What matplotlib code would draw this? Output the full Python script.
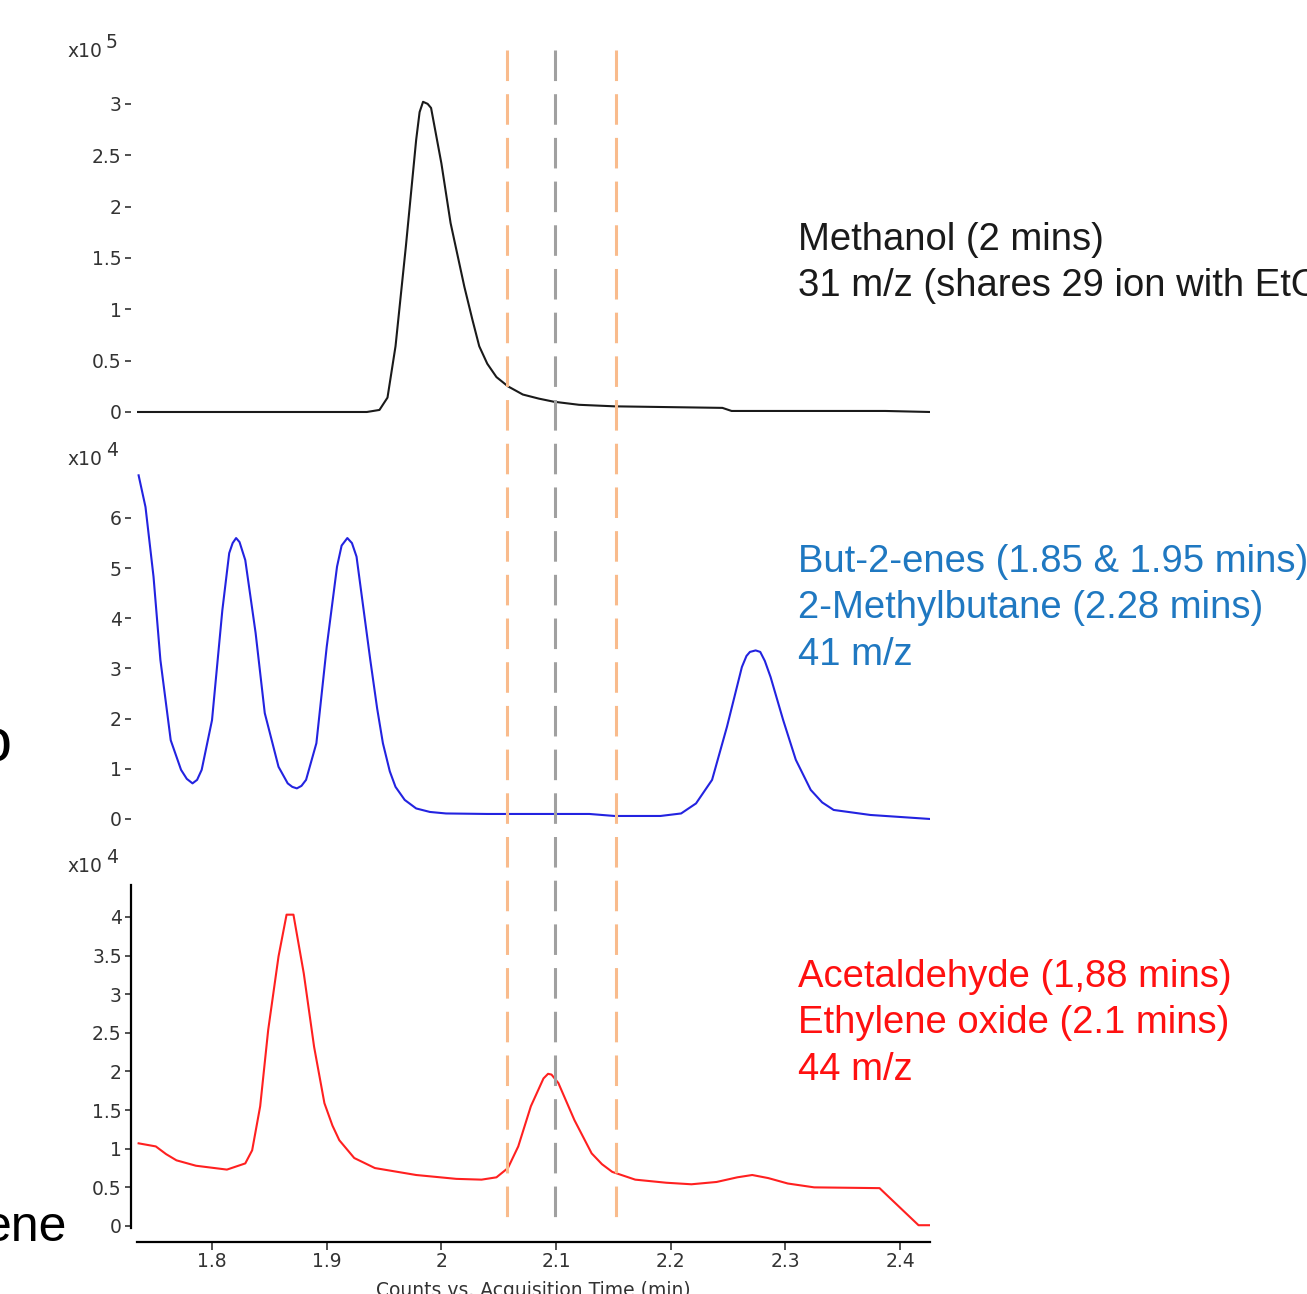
import matplotlib
matplotlib.use("Agg")
import matplotlib.pyplot as plt

W, H = 1307, 1294

# --- datos (x en min, y en unidades del multiplicador) ---
t_metanol = [1.735, 1.935, 1.946, 1.953, 1.960, 1.969, 1.978, 1.981, 1.984, 1.988,
             1.991, 2.000, 2.008, 2.020, 2.027, 2.033, 2.040, 2.048, 2.058, 2.071,
             2.085, 2.098, 2.120, 2.151, 2.245, 2.253, 2.387, 2.426]
y_metanol = [0, 0, 0.02, 0.14, 0.64, 1.61, 2.65, 2.92, 3.02, 3.00,
             2.96, 2.42, 1.84, 1.22, 0.90, 0.64, 0.47, 0.34, 0.25, 0.17,
             0.13, 0.10, 0.07, 0.055, 0.04, 0.01, 0.01, 0.0]

t_41 = [1.736, 1.742, 1.749, 1.755, 1.764, 1.773, 1.778, 1.783, 1.787, 1.791,
        1.800, 1.809, 1.815, 1.818, 1.821, 1.824, 1.829, 1.838, 1.846, 1.858,
        1.866, 1.870, 1.874, 1.878, 1.882, 1.891, 1.900, 1.909, 1.913, 1.918,
        1.922, 1.926, 1.938, 1.944, 1.949, 1.955, 1.960, 1.968, 1.978, 1.990,
        2.004, 2.040, 2.129, 2.151, 2.191, 2.209, 2.222, 2.236, 2.249, 2.262,
        2.266, 2.269, 2.274, 2.278, 2.282, 2.287, 2.298, 2.309, 2.322, 2.332,
        2.342, 2.374, 2.426]
y_41 = [6.85, 6.22, 4.83, 3.17, 1.57, 0.98, 0.80, 0.71, 0.78, 0.98,
        1.97, 4.16, 5.30, 5.50, 5.60, 5.52, 5.16, 3.71, 2.11, 1.04,
        0.71, 0.64, 0.61, 0.66, 0.78, 1.51, 3.43, 5.03, 5.45, 5.60,
        5.50, 5.23, 3.17, 2.20, 1.51, 0.95, 0.64, 0.38, 0.21, 0.14,
        0.11, 0.10, 0.10, 0.06, 0.06, 0.11, 0.31, 0.78, 1.84, 3.03,
        3.25, 3.33, 3.36, 3.33, 3.15, 2.83, 1.97, 1.18, 0.58, 0.33,
        0.18, 0.08, 0.0]

t_44 = [1.736, 1.751, 1.760, 1.769, 1.786, 1.813, 1.829, 1.835, 1.842, 1.849,
        1.858, 1.865, 1.871, 1.880, 1.889, 1.898, 1.905, 1.911, 1.924, 1.942,
        1.978, 2.013, 2.035, 2.048, 2.058, 2.067, 2.078, 2.089, 2.093, 2.096,
        2.102, 2.116, 2.131, 2.140, 2.149, 2.169, 2.196, 2.218, 2.240, 2.258,
        2.271, 2.285, 2.302, 2.325, 2.382, 2.416, 2.426]
y_44 = [1.07, 1.03, 0.93, 0.85, 0.78, 0.73, 0.81, 0.98, 1.55, 2.54,
        3.49, 4.03, 4.03, 3.27, 2.32, 1.59, 1.30, 1.11, 0.88, 0.75,
        0.66, 0.61, 0.60, 0.63, 0.75, 1.03, 1.55, 1.91, 1.97, 1.96,
        1.85, 1.37, 0.94, 0.80, 0.70, 0.60, 0.56, 0.54, 0.57, 0.63,
        0.66, 0.62, 0.55, 0.50, 0.49, 0.01, 0.01]

lineas_naranja = [2.057, 2.152]
linea_gris = [2.099]

ticks_top = [0, 0.5, 1, 1.5, 2, 2.5, 3]
ticks_mid = [0, 1, 2, 3, 4, 5, 6]
ticks_bot = [0, 0.5, 1, 1.5, 2, 2.5, 3, 3.5, 4]
ticks_x = [1.8, 1.9, 2.0, 2.1, 2.2, 2.3, 2.4]

X_MIN, X_MAX = 1.7346, 2.426

TICK_FONT = {"family": "DejaVu Sans", "size": 13.5, "color": "#333333"}
ANNOT_FONT = "Liberation Sans"


def rect(left, top, right, bottom):
    return [left / W, 1 - bottom / H, (right - left) / W, (bottom - top) / H]


def fx(x):
    return x / W


def fy(y):
    return 1 - y / H


def formato(v):
    return f"{v:g}"


def preparar_eje(ax, ticks, ylim):
    ax.set_xlim(X_MIN, X_MAX)
    ax.set_ylim(*ylim)
    for s in ax.spines.values():
        s.set_visible(False)
    ax.spines["left"].set_position(("outward", 4))
    ax.set_yticks(ticks)
    ax.set_yticklabels([formato(v) for v in ticks], fontdict=TICK_FONT)
    ax.tick_params(axis="y", length=4.5, width=1.2, color="#333333", pad=2.5)
    ax.set_xticks([])
    ax.patch.set_alpha(0)


fig = plt.figure(figsize=(W / 100, H / 100), dpi=100)

ax1 = fig.add_axes(rect(137, 60, 930, 420))
preparar_eje(ax1, ticks_top, (-0.078, 3.427))
ax1.plot(t_metanol, y_metanol, color="#1a1a1a", lw=1.5)

ax2 = fig.add_axes(rect(137, 465, 930, 825))
preparar_eje(ax2, ticks_mid, (-0.12, 7.056))
ax2.plot(t_41, y_41, color="#2323e0", lw=1.5)

ax3 = fig.add_axes(rect(137, 885, 930, 1228))
preparar_eje(ax3, ticks_bot, (-0.026, 4.414))
ax3.plot(t_44, y_44, color="#ff2020", lw=1.5)
ax3.spines["left"].set_visible(True)
ax3.spines["left"].set_linewidth(1.6)
ax3.spines["bottom"].set_visible(True)
ax3.spines["bottom"].set_linewidth(1.6)
ax3.spines["bottom"].set_position(("outward", 10))
ax3.set_xticks(ticks_x)
ax3.set_xticklabels([formato(v) for v in ticks_x], fontdict=TICK_FONT)
ax3.tick_params(axis="x", length=5.5, width=1.2, color="#333333", pad=2)
ax3.set_xlabel("Counts vs. Acquisition Time (min)", fontdict=TICK_FONT, labelpad=7)

# lineas discontinuas verticales que cruzan los tres paneles
ov = fig.add_axes(rect(137, 50, 930, 1228))
ov.set_xlim(X_MIN, X_MAX)
ov.set_ylim(0, 1)
ov.axis("off")
for t in lineas_naranja:
    ov.plot([t, t], [1, 0], color="#f9bb8c", lw=2.2, dashes=(10, 4.3))
for t in linea_gris:
    ov.plot([t, t], [1, 0], color="#a0a0a0", lw=2.2, dashes=(10, 4.3))

# multiplicadores
for y_base, exp in [(57, "5"), (465, "4"), (872, "4")]:
    fig.text(fx(67), fy(y_base), "x10", fontdict=TICK_FONT, va="baseline")
    fig.text(fx(106), fy(y_base - 9), exp, fontdict=TICK_FONT, va="baseline")

# anotaciones
anotaciones = [
    (250, "Methanol (2 mins)", "#1a1a1a"),
    (296, "31 m/z (shares 29 ion with EtOH)", "#1a1a1a"),
    (572, "But-2-enes (1.85 & 1.95 mins)", "#1f78c1"),
    (618, "2-Methylbutane (2.28 mins)", "#1f78c1"),
    (665, "41 m/z", "#1f78c1"),
    (987, "Acetaldehyde (1,88 mins)", "#ff1010"),
    (1033, "Ethylene oxide (2.1 mins)", "#ff1010"),
    (1080, "44 m/z", "#ff1010"),
]
for y_base, texto, color in anotaciones:
    fig.text(fx(798), fy(y_base), texto, family=ANNOT_FONT, size=27.5,
             color=color, va="baseline")

# restos de texto de la diapositiva, cortados por el borde izquierdo
fig.text(fx(12), fy(762), "o", family=ANNOT_FONT, size=44, color="black",
         ha="right", va="baseline")
fig.text(fx(67), fy(1241), "ene", family=ANNOT_FONT, size=36, color="black",
         ha="right", va="baseline")

fig.savefig("out.png", dpi=100)
